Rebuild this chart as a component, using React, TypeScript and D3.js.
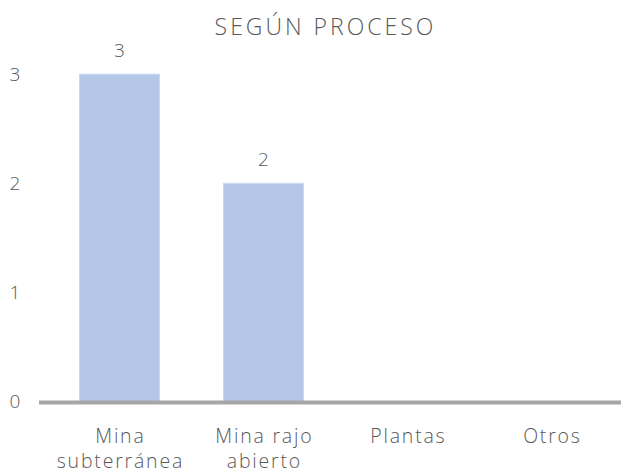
import React from "react";
import * as d3 from "d3";

const categories: string[][] = [["Mina", "subterránea"], ["Mina rajo", "abierto"], ["Plantas"], ["Otros"]];
const values: number[] = [3, 2, 0, 0];
const yTicks: number[] = [0, 1, 2, 3];
const title = "SEGÚN PROCESO";

export default function App() {
  const W = 621, H = 471;
  const x = d3.scaleBand<number>().domain(d3.range(categories.length)).range([47.5, 623.5]).paddingInner(0.444).paddingOuter(0.222);
  const y = d3.scaleLinear().domain([0, 3]).range([401.5, 74.2]);
  const font = "'Open Sans', 'DejaVu Sans', sans-serif";
  const col = "#595959";
  const ls = 1.8;
  return (
    <svg width={W} height={H} style={{ position: "absolute", left: 0, top: 0 }} fontFamily={font}>
      <rect width={W} height={H} fill="#fff" />
      <text x={324 + 1.5} y={35} textAnchor="middle" fontSize={23} fill={col} letterSpacing={3} fontWeight={300}>{title}</text>
      {yTicks.map((t) => (
        <text key={t} x={15} y={y(t)} dy="0.35em" textAnchor="middle" fontSize={19} fill={col} fontWeight={300}>{t}</text>
      ))}
      {values.map((v, i) =>
        v > 0 ? (
          <g key={i}>
            <rect x={x(i)} y={y(v)} width={x.bandwidth()} height={y(0) - y(v)} fill="#b4c7e7" stroke="#c9d7ef" strokeWidth={1} />
            <text x={(x(i) as number) + x.bandwidth() / 2} y={y(v) - 24} dy="0.35em" textAnchor="middle" fontSize={19} fill={col} fontWeight={300}>{v}</text>
          </g>
        ) : null
      )}
      <line x1={39} x2={621} y1={y(0) + 1} y2={y(0) + 1} stroke="#a6a6a6" strokeWidth={4} />
      {categories.map((lines, i) => (
        <text key={i} x={(x(i) as number) + x.bandwidth() / 2 + ls / 2} y={436.5} textAnchor="middle" fontSize={19.5} fill={col} fontWeight={300} letterSpacing={ls}>
          {lines.map((l, j) => (
            <tspan key={j} x={(x(i) as number) + x.bandwidth() / 2 + ls / 2} dy={j === 0 ? "0.35em" : 24.5}>{l}</tspan>
          ))}
        </text>
      ))}
    </svg>
  );
}
